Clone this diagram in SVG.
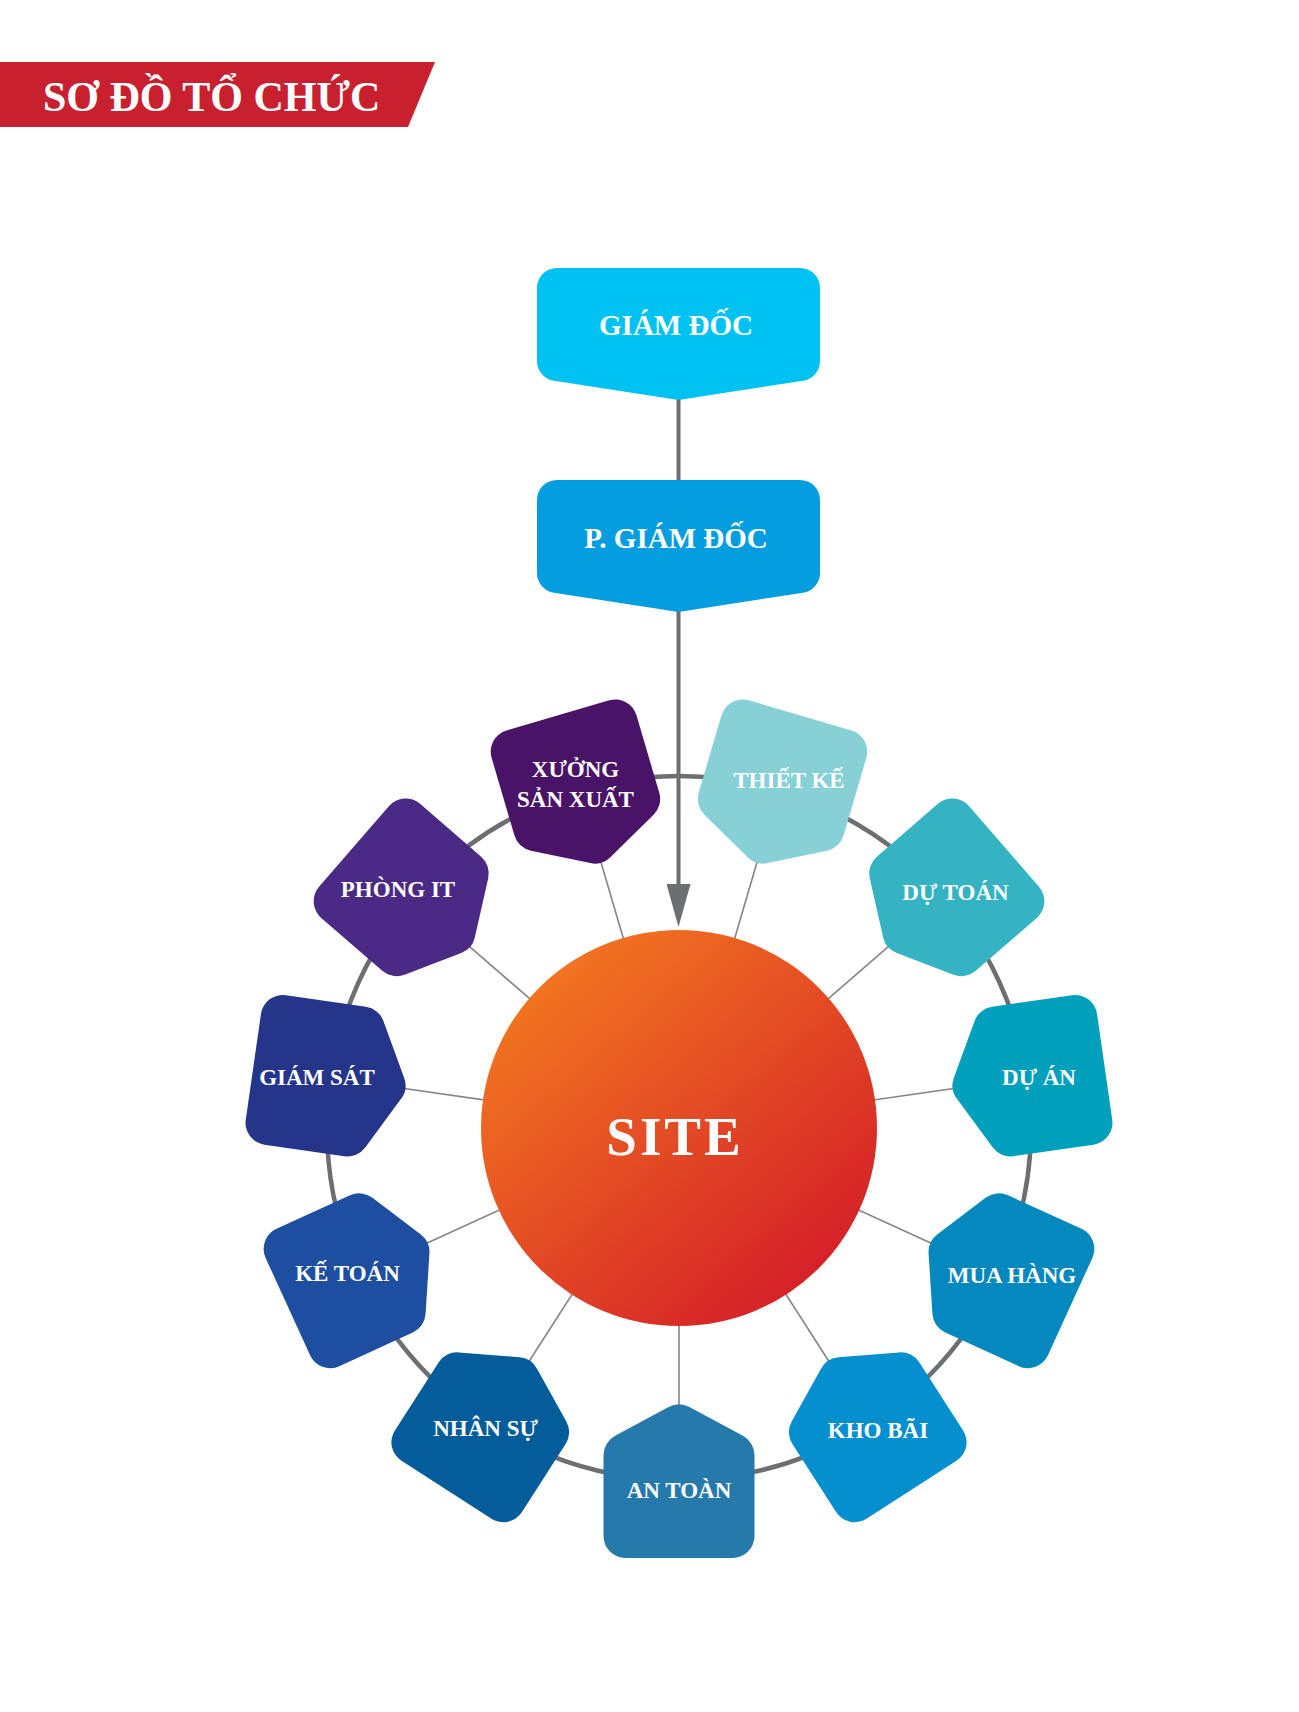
<svg xmlns="http://www.w3.org/2000/svg" xmlns:xlink="http://www.w3.org/1999/xlink" width="1299" height="1712" viewBox="0 0 1299 1712">
<style>
  .lbl { font-family: "Liberation Serif", "DejaVu Serif", serif; font-weight: bold; fill: #ffffff; text-anchor: middle; }
  .ring-lbl { font-size: 23px; }
  .top-lbl { font-size: 29px; }
  .shape { stroke-linejoin: round; stroke-width: 44; }
  .topshape { stroke-linejoin: round; stroke-width: 40; }
  .spoke { stroke: #858585; stroke-width: 1.6; fill: none; }
  .ring { stroke: #6d6e71; stroke-width: 4.5; fill: none; }
  .main { stroke: #6d6e71; stroke-width: 4; fill: none; }
</style>
<defs>
  <polygon id="house" points="-53.5,-56 53.5,-56 53.5,24.8 0,53.5 -53.5,24.8"/>
  <linearGradient id="siteGrad" x1="0.15" y1="0.1" x2="0.85" y2="0.9">
    <stop offset="0" stop-color="#f27620"/>
    <stop offset="1" stop-color="#d41f28"/>
  </linearGradient>
  <marker id="arrow" viewBox="0 0 43 24" markerWidth="43" markerHeight="24" refX="31" refY="12" orient="auto" markerUnits="userSpaceOnUse">
    <path d="M0,0 L43,12 L0,24 Z" fill="#6d6e71"/>
  </marker>
</defs>
<rect x="0" y="0" width="1299" height="1712" fill="#ffffff"/>

<g id="title">
  <polygon points="0,62 435,62 408,127 0,127" fill="#c8202f"/>
  <text x="43" y="111" class="lbl" style="text-anchor:start;font-size:42px">SƠ ĐỒ TỔ CHỨC</text>
</g>

<g id="connectors">
  <circle class="ring" cx="679" cy="1128" r="352"/>
  <line class="spoke" x1="679" y1="1128" x2="760.7" y2="849.7"/>
  <line class="spoke" x1="679" y1="1128" x2="898.2" y2="938.1"/>
  <line class="spoke" x1="679" y1="1128" x2="966.0" y2="1086.7"/>
  <line class="spoke" x1="679" y1="1128" x2="942.8" y2="1248.5"/>
  <line class="spoke" x1="679" y1="1128" x2="835.8" y2="1372.0"/>
  <line class="spoke" x1="679" y1="1128" x2="679" y2="1418"/>
  <line class="spoke" x1="679" y1="1128" x2="522.2" y2="1372.0"/>
  <line class="spoke" x1="679" y1="1128" x2="415.2" y2="1248.5"/>
  <line class="spoke" x1="679" y1="1128" x2="392.0" y2="1086.7"/>
  <line class="spoke" x1="679" y1="1128" x2="459.8" y2="938.1"/>
  <line class="spoke" x1="679" y1="1128" x2="597.3" y2="849.7"/>
  <line class="main" x1="678.5" y1="390" x2="678.5" y2="490"/>
  <line class="main" x1="678.5" y1="600" x2="678.5" y2="915" marker-end="url(#arrow)"/>
</g>

<g id="node-giam-doc">
  <polygon class="topshape" points="557,288 800,288 800,360.9 678.5,379.7 557,360.9" fill="#00c2f2" stroke="#00c2f2"/>
  <text x="676" y="335" class="lbl top-lbl">GIÁM ĐỐC</text>
</g>
<g id="node-p-giam-doc">
  <polygon class="topshape" points="557,500 800,500 800,572.9 678.5,591.7 557,572.9" fill="#049ddf" stroke="#049ddf"/>
  <text x="676" y="548" class="lbl top-lbl">P. GIÁM ĐỐC</text>
</g>

<g id="node-site">
  <circle cx="679" cy="1128" r="198" fill="url(#siteGrad)"/>
  <text x="675" y="1155" class="lbl" style="font-size:55px;letter-spacing:3px">SITE</text>
</g>

<g id="node-thiet-ke">
  <use xlink:href="#house" class="shape" fill="#87d0d5" stroke="#87d0d5" transform="translate(778.17,790.26) rotate(16.3636)"/>
  <text x="789" y="788" class="lbl ring-lbl">THIẾT KẾ</text>
</g>
<g id="node-du-toan">
  <use xlink:href="#house" class="shape" fill="#35b3c3" stroke="#35b3c3" transform="translate(945.02,897.49) rotate(49.0909)"/>
  <text x="955.5" y="900" class="lbl ring-lbl">DỰ TOÁN</text>
</g>
<g id="node-du-an">
  <use xlink:href="#house" class="shape" fill="#00a0bd" stroke="#00a0bd" transform="translate(1027.42,1077.91) rotate(81.8182)"/>
  <text x="1039" y="1085" class="lbl ring-lbl">DỰ ÁN</text>
</g>
<g id="node-mua-hang">
  <use xlink:href="#house" class="shape" fill="#0588bd" stroke="#0588bd" transform="translate(999.19,1274.23) rotate(114.5455)"/>
  <text x="1012" y="1283" class="lbl ring-lbl">MUA HÀNG</text>
</g>
<g id="node-kho-bai">
  <use xlink:href="#house" class="shape" fill="#058fcf" stroke="#058fcf" transform="translate(869.31,1424.12) rotate(147.2727)"/>
  <text x="878" y="1438" class="lbl ring-lbl">KHO BÃI</text>
</g>
<g id="node-an-toan">
  <use xlink:href="#house" class="shape" fill="#2679ab" stroke="#2679ab" transform="translate(679,1480) rotate(180)"/>
  <text x="679" y="1498" class="lbl ring-lbl">AN TOÀN</text>
</g>
<g id="node-nhan-su">
  <use xlink:href="#house" class="shape" fill="#055c9a" stroke="#055c9a" transform="translate(488.69,1424.12) rotate(212.7273)"/>
  <text x="485.5" y="1436" class="lbl ring-lbl">NHÂN SỰ</text>
</g>
<g id="node-ke-toan">
  <use xlink:href="#house" class="shape" fill="#1e4ea0" stroke="#1e4ea0" transform="translate(358.81,1274.23) rotate(245.4545)"/>
  <text x="347.5" y="1281" class="lbl ring-lbl">KẾ TOÁN</text>
</g>
<g id="node-giam-sat">
  <use xlink:href="#house" class="shape" fill="#24358a" stroke="#24358a" transform="translate(330.58,1077.91) rotate(278.1818)"/>
  <text x="317" y="1085" class="lbl ring-lbl">GIÁM SÁT</text>
</g>
<g id="node-phong-it">
  <use xlink:href="#house" class="shape" fill="#4a2a85" stroke="#4a2a85" transform="translate(412.98,897.49) rotate(310.9091)"/>
  <text x="398" y="897" class="lbl ring-lbl">PHÒNG IT</text>
</g>
<g id="node-xuong-san-xuat">
  <use xlink:href="#house" class="shape" fill="#491467" stroke="#491467" transform="translate(579.83,790.26) rotate(343.6364)"/>
  <text x="575.5" y="777" class="lbl ring-lbl">XƯỞNG</text>
  <text x="575.5" y="807" class="lbl ring-lbl">SẢN XUẤT</text>
</g>
</svg>
